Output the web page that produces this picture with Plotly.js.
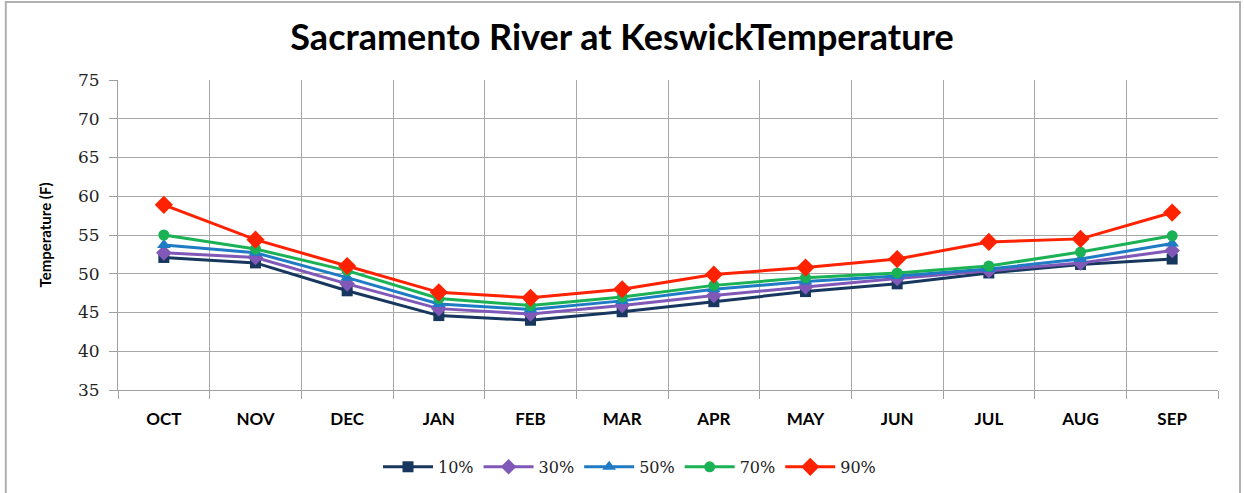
<!DOCTYPE html>
<html>
<head>
<meta charset="utf-8">
<script src="https://cdn.plot.ly/plotly-3.0.1.min.js"></script>
<style>html,body{margin:0;padding:0;background:#fff;}#chart{width:1244px;height:493px;}</style>
</head>
<body>
<div id="chart"></div>
<script>
var months = ["OCT","NOV","DEC","JAN","FEB","MAR","APR","MAY","JUN","JUL","AUG","SEP"];
var p10 = [52.1, 51.4, 47.8, 44.6, 44.0, 45.1, 46.4, 47.7, 48.7, 50.1, 51.2, 51.9];
var p30 = [52.7, 52.1, 48.7, 45.5, 44.8, 45.9, 47.2, 48.3, 49.4, 50.4, 51.4, 53.0];
var p50 = [53.7, 52.7, 49.5, 46.1, 45.4, 46.5, 48.0, 49.0, 49.7, 50.6, 51.9, 53.9];
var p70 = [55.0, 53.2, 50.4, 46.8, 45.9, 47.0, 48.5, 49.5, 50.1, 51.0, 52.8, 54.9];
var p90 = [58.9, 54.4, 51.0, 47.6, 46.9, 48.0, 49.9, 50.8, 51.9, 54.1, 54.5, 57.9];
var names = ["10%","30%","50%","70%","90%"];
var series = [p10, p30, p50, p70, p90];
var colors = ["#17375E","#8058B8","#1F7BC4","#1BB155","#FF2200"];
var symbols = ["square","diamond","triangle-up","circle","diamond"];
var sizes = [11, 12, 12, 11, 14];

var traces = series.map(function(s, i){
  return {
    x: months, y: s, name: names[i], type: "scatter", mode: "lines+markers",
    line: {color: colors[i], width: 3},
    marker: {symbol: symbols[i], color: colors[i], size: sizes[i]}
  };
});

var layout = {
  width: 1244, height: 493,
  margin: {l: 118, r: 26, t: 80, b: 103, autoexpand: false},
  paper_bgcolor: "#ffffff", plot_bgcolor: "#ffffff",
  font: {family: "Lato, 'Open Sans', sans-serif", color: "#000"},
  title: {text: "<b>Sacramento River at KeswickTemperature</b>", x: 0.5, xref: "container", xanchor: "center", y: 0.925, yanchor: "middle",
          font: {size: 36, family: "Lato, 'Open Sans', sans-serif", color: "#000"}},
  xaxis: {
    type: "category", tickson: "boundaries", ticks: "outside", ticklen: 8, tickcolor: "#a0a0a0",
    showgrid: true, gridcolor: "#a8a8a8", gridwidth: 1,
    showline: true, linecolor: "#a0a0a0", linewidth: 1, mirror: false, automargin: false,
    tickfont: {size: 17, color: "#000", family: "Lato, 'Open Sans', sans-serif", weight: "bold"},
    ticklabelstandoff: 14, range: [-0.5, 11.5], fixedrange: true
  },
  yaxis: {
    range: [35, 75], dtick: 5, ticks: "outside", ticklen: 8, tickcolor: "#a0a0a0",
    showgrid: true, gridcolor: "#a8a8a8", gridwidth: 1, automargin: false,
    showline: true, linecolor: "#a0a0a0", linewidth: 1, zeroline: false,
    tickfont: {size: 17, color: "#222", family: "'DejaVu Serif', serif"},
    ticklabelstandoff: 6,
    title: {text: "<b>Temperature (F)</b>", font: {size: 15, color: "#000", family: "Lato, 'Open Sans', sans-serif"}, standoff: 22}
  },
  legend: {orientation: "h", x: 0.465, xanchor: "center", y: -0.248, yanchor: "middle",
           font: {size: 16, family: "'DejaVu Serif', serif", color: "#222"}, itemwidth: 50, traceorder: "normal"},
  shapes: [
    {type: "rect", xref: "paper", yref: "paper", x0: -0.102, x1: 1.02, y0: -0.36, y1: 1.252,
     line: {color: "#b0b0b0", width: 2}, fillcolor: "rgba(0,0,0,0)", layer: "below"}
  ],
  showlegend: true
};

Plotly.newPlot("chart", traces, layout, {displayModeBar: false, staticPlot: true});
</script>
</body>
</html>
